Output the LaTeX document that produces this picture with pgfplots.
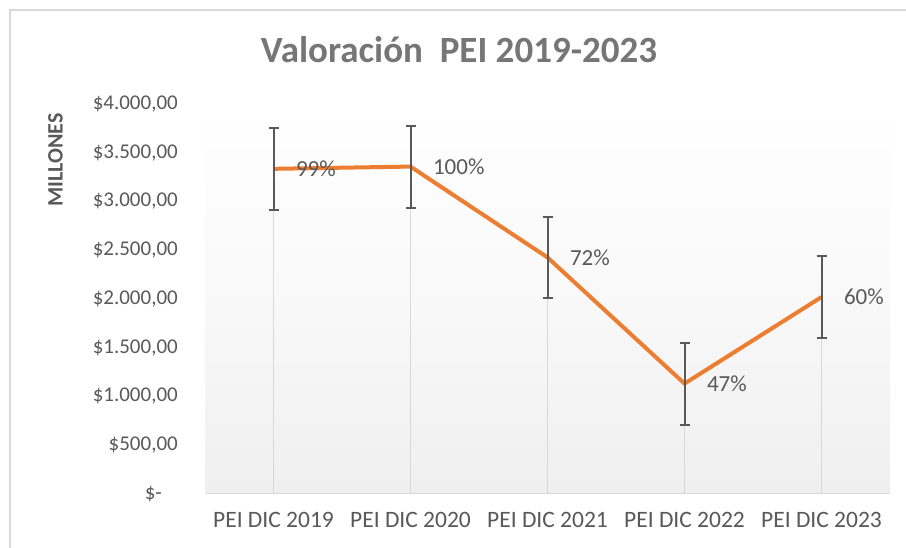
\documentclass[border=0pt]{standalone}
\usepackage{pgfplots}
\pgfplotsset{compat=1.18}
\usepackage{fontspec}
\setmainfont{Carlito}
\definecolor{txtgray}{RGB}{89,89,89}
\definecolor{titlegray}{RGB}{118,118,118}
\definecolor{linegray}{RGB}{217,217,217}
\definecolor{xlorange}{RGB}{237,125,49}
\definecolor{errgray}{RGB}{89,89,89}
\definecolor{bgbottom}{RGB}{239,239,239}
\begin{document}
\begin{tikzpicture}[x=1bp,y=1bp]
\useasboundingbox (0,0) rectangle (906,548);
\fill[white] (0,0) rectangle (906,548);
\draw[linegray, line width=2bp] (10,0) -- (10,538) -- (906,538);
\begin{axis}[
  at={(205bp,54bp)}, anchor=south west,
  scale only axis, width=685bp, height=390bp,
  xmin=-0.5, xmax=4.5, ymin=0, ymax=4000,
  axis x line*=bottom, axis y line*=left,
  x axis line style={draw=linegray, line width=1bp, -},
  y axis line style={draw=none},
  xtick={0,1,2,3,4},
  xticklabels={PEI DIC 2019,PEI DIC 2020,PEI DIC 2021,PEI DIC 2022,PEI DIC 2023},
  xtick style={draw=none},
  xticklabel style={font=\fontsize{23.5bp}{28bp}\selectfont, text=txtgray, yshift=-15bp},
  ytick={0,500,1000,1500,2000,2500,3000,3500,4000},
  yticklabels={\$-\phantom{0,},\$500{,}00,\$1.000{,}00,\$1.500{,}00,\$2.000{,}00,\$2.500{,}00,\$3.000{,}00,\$3.500{,}00,\$4.000{,}00},
  ytick style={draw=none},
  yticklabel style={font=\fontsize{21bp}{25bp}\selectfont, text=txtgray, anchor=east, inner sep=0pt},
  every y tick label/.append style={xshift=-27bp},
  axis background/.style={shade, top color=white, bottom color=bgbottom, middle color=white!60!bgbottom},
  clip=false,
]
\addplot[ycomb, draw=linegray, line width=1.5bp, mark=none] coordinates {
  (0,3335) (1,3358) (2,2426) (3,1132) (4,2020)
};
\addplot[draw=xlorange, line width=4bp, mark=none,
  error bars/.cd, y dir=both, y explicit,
  error bar style={draw=errgray, line width=2bp},
  error mark options={rotate=90, mark size=5bp, draw=errgray, line width=2bp},
] coordinates {
  (0,3335) +- (0,420)
  (1,3358) +- (0,420)
  (2,2426) +- (0,420)
  (3,1132) +- (0,420)
  (4,2020) +- (0,420)
};
\addplot[draw=none, mark=none,
  nodes near coords, point meta=explicit symbolic,
  every node near coord/.append style={anchor=west, xshift=19bp, yshift=0bp, font=\fontsize{23bp}{27bp}\selectfont, text=txtgray},
] coordinates {
  (0,3335) [99\%]
  (1,3358) [100\%]
  (2,2426) [72\%]
  (3,1132) [47\%]
  (4,2020) [60\%]
};
\end{axis}
\node[font=\fontsize{37bp}{42bp}\selectfont\bfseries, text=titlegray] at (459,498) {Valoración\ \ PEI 2019-2023};
\node[font=\fontsize{22bp}{26bp}\selectfont\bfseries, text=txtgray, rotate=90] at (55.5,388) {MILLONES};
\end{tikzpicture}
\end{document}
